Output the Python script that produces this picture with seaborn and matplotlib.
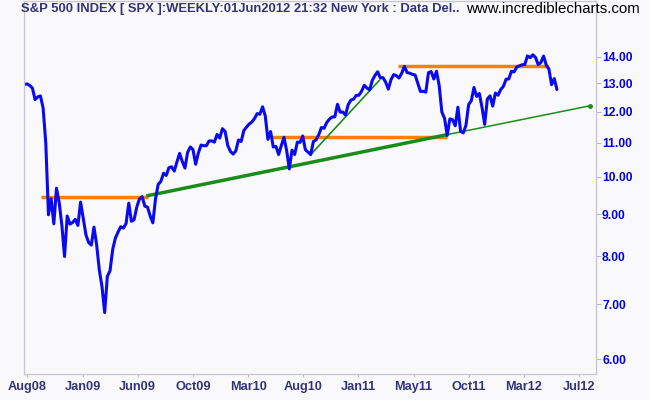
import matplotlib
matplotlib.use('Agg')
import matplotlib.pyplot as plt
import matplotlib.ticker as mticker
import seaborn as sns
import pandas as pd

# weekly closes, S&P 500 (Aug 2008 - Jun 2012)
closes_2008 = [1296.3, 1298.2, 1292.2, 1282.8, 1242.3, 1251.7, 1255.1, 1213.3, 1099.2, 899.2,
               940.6, 876.8, 968.8, 931.0, 873.3, 800.0, 896.2, 876.1, 879.7, 887.9, 872.8]
closes_2009 = [931.8, 890.4, 850.1, 832.0, 825.9, 868.6, 826.8, 770.1, 735.1, 683.4,
               756.6, 768.5, 815.9, 842.5, 856.6, 869.6, 866.2, 877.5, 929.2, 882.9,
               887.0, 919.1, 940.1, 946.2, 921.2, 918.9, 896.4, 879.1, 940.4, 979.3,
               987.5, 1010.5, 1004.1, 1026.1, 1028.9, 1016.4, 1042.7, 1068.3, 1044.4, 1025.2,
               1071.5, 1087.7, 1079.6, 1036.2, 1069.3, 1093.5, 1091.4, 1091.5, 1106.0, 1106.4,
               1102.5, 1126.5, 1115.1]
closes_2010 = [1145.0, 1136.0, 1091.8, 1073.9, 1066.2, 1075.5, 1109.2, 1104.5, 1138.7, 1150.0,
               1159.9, 1166.6, 1178.1, 1194.4, 1192.1, 1217.3, 1186.7, 1110.9, 1135.7, 1087.7,
               1089.4, 1064.9, 1091.6, 1117.5, 1076.8, 1022.6, 1078.0, 1064.9, 1102.7, 1101.6,
               1121.6, 1079.3, 1071.7, 1064.6, 1104.5, 1109.6, 1125.6, 1148.7, 1146.2, 1165.2,
               1176.2, 1183.1, 1183.3, 1225.9, 1199.2, 1199.7, 1189.4, 1224.7, 1240.4, 1243.9,
               1256.8, 1257.6]
closes_2011 = [1271.5, 1293.2, 1283.4, 1276.3, 1310.9, 1329.2, 1343.0, 1319.9, 1321.2, 1304.3,
               1279.2, 1313.8, 1332.4, 1328.2, 1319.7, 1337.4, 1363.6, 1340.2, 1337.8, 1333.3,
               1331.1, 1300.2, 1271.0, 1271.5, 1268.5, 1339.7, 1343.8, 1316.1, 1345.0, 1292.3,
               1199.4, 1178.8, 1123.5, 1176.8, 1174.0, 1154.2, 1216.0, 1136.4, 1131.4, 1155.5,
               1224.6, 1238.3, 1285.1, 1253.2, 1263.9, 1215.7, 1158.7, 1244.3, 1255.2, 1219.7,
               1265.3, 1257.6]
closes_2012 = [1277.8, 1289.1, 1315.4, 1316.3, 1344.9, 1342.6, 1361.2, 1365.7, 1369.6, 1370.9,
               1404.2, 1397.1, 1408.5, 1398.1, 1370.3, 1378.5, 1403.4, 1369.1, 1353.4, 1295.2,
               1317.8, 1278.0]

# trend lines drawn on the chart
support_dates = ['2009-06-23', '2011-08-19', '2012-08-27']
support_vals = [948, 1126, 1221]
channel_dates = ['2010-08-27', '2011-02-23']
channel_vals = [1064.6, 1312]
resist1_dates = ['2008-09-21', '2009-06-28']
resist1_level = 945
resist2_dates = ['2010-05-14', '2011-08-19']
resist2_level = 1120
resist3_dates = ['2011-04-11', '2012-05-09']
resist3_level = 1364

y_ticks = [600, 700, 800, 900, 1000, 1100, 1200, 1300, 1400]
x_labels = ['Aug08', 'Jan09', 'Jun09', 'Oct09', 'Mar10', 'Aug10',
            'Jan11', 'May11', 'Oct11', 'Mar12', 'Jul12']

closes = closes_2008 + closes_2009 + closes_2010 + closes_2011 + closes_2012
start = pd.Timestamp('2008-08-08')
df = pd.DataFrame({'date': pd.date_range(start, periods=len(closes), freq='7D'),
                   'close': closes})

sns.set_theme(style='white')
plt.rcParams['font.family'] = ['Liberation Sans', 'DejaVu Sans']

bg = '#F9F9FB'
fig = plt.figure(figsize=(6.5, 4), dpi=100, facecolor=bg)
ax = fig.add_axes([24 / 650, 26 / 400, 572 / 650, 373 / 400], facecolor=bg)

orange = '#FF7F00'
green = '#1A8C1A'
for d, lv in [(resist1_dates, resist1_level), (resist2_dates, resist2_level),
              (resist3_dates, resist3_level)]:
    ax.plot(pd.to_datetime(d), [lv, lv], color=orange, lw=2.5, solid_capstyle='butt')

sd = pd.to_datetime(support_dates)
ax.plot(sd[:2], support_vals[:2], color=green, lw=2.5, solid_capstyle='butt')
ax.plot(sd[1:], support_vals[1:], color=green, lw=1.1)
ax.plot(sd[-1:], support_vals[-1:], marker='o', ms=2.5, color=green)
ax.plot(pd.to_datetime(channel_dates), channel_vals, color=green, lw=1.2)

sns.lineplot(data=df, x='date', y='close', ax=ax, color='#0A0AF0', lw=2.2)

ax.set_yscale('log')
ax.set_ylim(575.3, 1638)
ax.set_xlim(start - pd.Timedelta(days=1), start + pd.Timedelta(weeks=213.6))
ax.yaxis.tick_right()
ax.yaxis.set_major_locator(mticker.FixedLocator(y_ticks))
ax.yaxis.set_minor_locator(mticker.NullLocator())
ax.set_yticklabels([f'{v / 100:.2f}' for v in y_ticks])

xt = [start + pd.Timedelta(weeks=1.12 + 20.62 * i) for i in range(len(x_labels))]
ax.set_xticks(xt)
ax.set_xticklabels(x_labels)
ax.set_xlabel('')
ax.set_ylabel('')

ax.tick_params(axis='y', which='major', right=True, left=False, direction='out',
               length=3.6, width=0.8, color='#B8B8C8', pad=0.8,
               labelsize=8.7, labelcolor='#0000E0')
ax.tick_params(axis='x', which='major', bottom=True, direction='out',
               length=2.2, width=0.8, color='#B8B8C8', pad=3,
               labelsize=9.2, labelcolor='#333377')
for lab in ax.get_xticklabels() + ax.get_yticklabels():
    lab.set_fontweight('bold')
for sp in ax.spines.values():
    sp.set_color('#C4C4D2')
    sp.set_linewidth(0.9)

fig.text(21 / 650, 1 - 9 / 400,
         'S&P 500 INDEX [ SPX ]:WEEKLY:01Jun2012 21:32 New York : Data Del..',
         ha='left', va='center', fontsize=9.4, fontweight='bold', color='#333377')
fig.text(640 / 650, 1 - 9 / 400, 'www.incrediblecharts.com',
         ha='right', va='center', fontsize=10.8, color='black')

fig.savefig('out.png', dpi=100, facecolor=bg)
